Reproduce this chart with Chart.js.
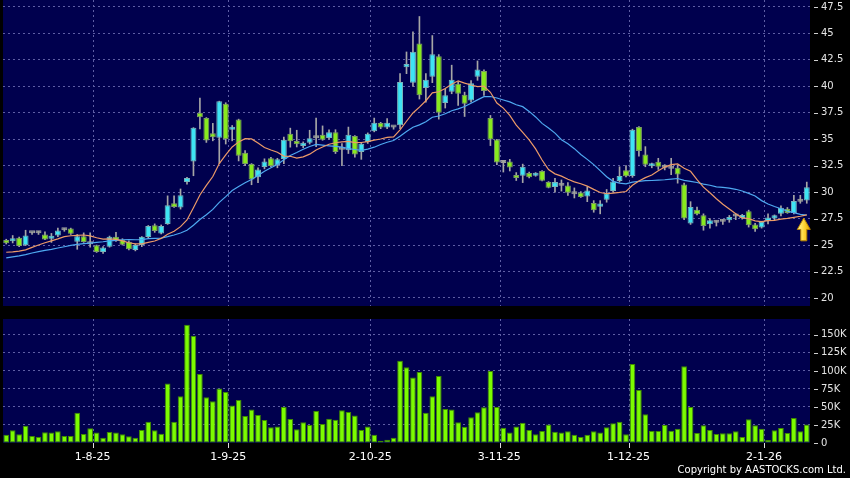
<!DOCTYPE html>
<html>
<head>
<meta charset="utf-8">
<title>Price chart</title>
<script src="https://cdn.jsdelivr.net/npm/chart.js@4.4.1/dist/chart.umd.min.js"></script>
<style>
  html, body { margin: 0; padding: 0; background: #000; overflow: hidden; }
  #wrap { position: relative; width: 850px; height: 478px; background: #000; }
  #priceChart { position: absolute; left: 0; top: 0; }
  #volChart { position: absolute; left: 0; top: 306px; }
  #copy { position: absolute; right: 4px; top: 464px; color: #fff; font: 10px "DejaVu Sans", sans-serif; line-height: 12px; }
</style>
</head>
<body>
<div id="wrap">
  <canvas id="priceChart" width="850" height="306"></canvas>
  <canvas id="volChart" width="850" height="172"></canvas>
  <div id="copy">Copyright by AASTOCKS.com Ltd.</div>
</div>
<script>
// trading calendar (HK), first bar and market holidays in the range
const firstDay = '2025-07-14';
const holidays = ['2025-10-01', '2025-10-07', '2025-10-29', '2025-12-25', '2025-12-26', '2026-01-01'];

// daily OHLC
const openPx = [
  25.47, 25.37, 25.69, 24.97, 26.12, 26.12, 26.00, 25.60, 25.90, 26.40,
  26.56, 25.31, 25.84, 25.08, 24.97, 24.34, 24.84, 25.78, 25.50, 25.31,
  24.53, 25.00, 25.76, 26.86, 26.10, 27.00, 28.95, 28.54, 30.95, 32.90,
  37.50, 37.00, 35.57, 35.13, 38.35, 35.89, 36.87, 33.73, 32.66, 31.40,
  32.38, 33.20, 32.55, 33.13, 35.53, 34.83, 34.36, 34.68, 35.10, 35.43,
  35.12, 35.66, 34.00, 33.95, 35.30, 33.80, 34.74, 35.75, 36.54, 36.10,
  36.10, 36.32, 41.80, 40.33, 44.05, 39.85, 40.90, 42.85, 38.42, 39.50,
  40.25, 39.20, 38.67, 40.90, 41.45, 37.00, 34.97, 32.75, 32.90, 31.60,
  31.55, 31.80, 31.55, 32.00, 30.95, 30.48, 30.60, 30.64, 29.80, 29.97,
  29.60, 28.98, 28.63, 29.27, 30.10, 31.05, 32.07, 31.53, 36.15, 33.57,
  32.45, 32.87, 32.30, 32.20, 32.30, 30.72, 27.03, 28.34, 27.81, 26.97,
  27.10, 27.20, 27.34, 27.70, 27.56, 28.19, 26.94, 26.66, 27.28, 27.50,
  27.97, 28.44, 28.03, 29.10, 29.22
];
const highPx = [
  25.55, 25.90, 25.75, 26.40, 26.20, 26.30, 26.25, 26.10, 26.60, 26.55,
  26.60, 26.00, 26.15, 26.15, 25.00, 24.85, 25.85, 26.20, 25.60, 25.40,
  25.10, 25.80, 26.85, 27.00, 26.90, 29.65, 29.65, 30.30, 31.40, 36.10,
  38.90, 37.05, 36.50, 38.60, 38.45, 36.30, 36.90, 33.92, 32.70, 32.30,
  33.15, 33.30, 33.20, 35.20, 36.05, 35.85, 34.75, 35.85, 37.00, 36.26,
  35.90, 35.90, 34.60, 36.15, 35.35, 34.65, 35.60, 37.00, 36.60, 36.95,
  36.20, 41.20, 43.25, 45.16, 46.60, 41.20, 44.80, 43.00, 39.75, 42.00,
  40.45, 39.45, 40.55, 42.40, 41.55, 37.25, 35.00, 32.90, 33.10, 31.85,
  32.65, 31.90, 31.85, 32.05, 31.00, 31.30, 31.15, 30.90, 30.40, 30.05,
  30.50, 29.20, 29.20, 30.25, 31.30, 32.40, 32.50, 35.95, 36.20, 34.30,
  32.75, 33.20, 32.60, 33.20, 32.55, 30.85, 29.10, 28.60, 27.95, 27.50,
  27.30, 27.40, 27.80, 27.95, 27.90, 28.30, 27.05, 27.25, 27.95, 27.85,
  28.70, 28.55, 29.70, 29.70, 30.95
];
const lowPx = [
  25.10, 25.20, 24.85, 24.95, 26.00, 26.00, 25.50, 25.25, 25.80, 26.30,
  26.00, 24.60, 25.25, 24.80, 24.30, 24.20, 24.80, 25.35, 25.00, 24.55,
  24.45, 24.85, 25.70, 26.20, 26.05, 26.95, 28.55, 28.40, 30.75, 31.55,
  35.98, 34.70, 34.85, 32.70, 34.55, 34.85, 32.95, 32.50, 30.70, 30.90,
  32.20, 32.40, 32.30, 32.70, 34.25, 34.27, 34.20, 34.55, 34.30, 34.90,
  35.00, 33.65, 32.50, 33.65, 33.30, 33.10, 34.60, 35.70, 36.00, 36.00,
  35.95, 36.00, 41.20, 40.00, 38.80, 38.50, 40.35, 36.90, 37.95, 39.30,
  38.20, 37.15, 38.50, 40.57, 39.15, 34.40, 32.60, 31.90, 32.00, 31.10,
  30.90, 31.35, 31.50, 31.05, 30.40, 30.00, 30.10, 29.70, 29.45, 29.50,
  29.10, 28.10, 27.95, 29.05, 30.00, 30.95, 31.45, 31.40, 33.40, 32.40,
  32.30, 32.15, 32.10, 31.65, 30.85, 27.40, 26.95, 27.85, 26.40, 26.60,
  26.80, 26.95, 27.15, 27.40, 27.45, 26.70, 26.30, 26.60, 27.00, 27.40,
  27.75, 28.00, 27.95, 28.95, 28.95
];
const closePx = [
  25.16, 25.56, 24.91, 25.90, 26.12, 26.12, 25.53, 25.87, 26.37, 26.40,
  26.06, 25.84, 25.28, 25.08, 24.34, 24.78, 25.78, 25.40, 25.03, 24.60,
  25.00, 25.78, 26.80, 26.33, 26.80, 28.76, 28.60, 29.70, 31.34, 36.08,
  37.09, 34.87, 35.20, 38.58, 35.03, 36.17, 33.45, 32.66, 31.20, 32.15,
  32.90, 32.47, 33.10, 34.96, 34.80, 34.52, 34.68, 35.09, 35.10, 34.96,
  35.65, 33.80, 34.00, 35.43, 33.57, 34.58, 35.53, 36.57, 36.10, 36.57,
  36.10, 40.42, 42.10, 43.26, 39.15, 40.63, 43.04, 37.50, 39.15, 40.63,
  39.30, 38.35, 40.30, 41.60, 39.55, 34.97, 32.80, 32.75, 32.34, 31.33,
  32.40, 31.40, 31.80, 31.07, 30.41, 30.95, 30.60, 29.94, 29.80, 29.55,
  30.16, 28.28, 28.92, 29.90, 31.00, 31.53, 31.50, 35.89, 33.90, 32.60,
  32.70, 32.39, 32.30, 32.20, 31.66, 27.50, 28.60, 27.90, 26.80, 27.34,
  27.10, 27.20, 27.65, 27.70, 27.81, 26.87, 26.50, 27.19, 27.60, 27.81,
  28.53, 28.03, 29.16, 29.10, 30.47
];

// moving averages as drawn (10 and 20 day)
const ma10 = [
  24.32, 24.36, 24.42, 24.55, 24.78, 25.00, 25.22, 25.40, 25.58, 25.79,
  25.88, 25.91, 25.95, 25.87, 25.69, 25.56, 25.58, 25.53, 25.40, 25.22,
  25.11, 25.11, 25.26, 25.38, 25.63, 26.03, 26.31, 26.74, 27.37, 28.52,
  29.73, 30.64, 31.48, 32.70, 33.53, 34.27, 34.75, 35.05, 35.03, 34.64,
  34.22, 33.98, 33.77, 33.41, 33.39, 33.22, 33.34, 33.59, 33.98, 34.26,
  34.53, 34.67, 34.76, 34.80, 34.68, 34.69, 34.77, 34.92, 35.02, 35.18,
  35.23, 35.89, 36.70, 37.48, 38.04, 38.64, 39.39, 39.49, 39.79, 40.20,
  40.52, 40.31, 40.13, 39.97, 40.01, 39.44, 38.42, 37.94, 37.26, 36.33,
  35.64, 34.94, 34.09, 33.04, 32.13, 31.73, 31.51, 31.22, 30.97, 30.79,
  30.57, 30.26, 29.97, 29.85, 29.91, 29.97, 30.06, 30.65, 31.06, 31.37,
  31.62, 32.03, 32.37, 32.60, 32.67, 32.26, 31.97, 31.18, 30.47, 29.94,
  29.38, 28.86, 28.40, 27.95, 27.56, 27.50, 27.29, 27.22, 27.30, 27.34,
  27.45, 27.52, 27.62, 27.72, 27.85
];
const ma20 = [
  23.78, 23.88, 23.97, 24.10, 24.25, 24.38, 24.50, 24.60, 24.72, 24.84,
  24.97, 25.06, 25.13, 25.19, 25.25, 25.31, 25.40, 25.45, 25.50, 25.51,
  25.50, 25.51, 25.60, 25.63, 25.66, 25.79, 25.95, 26.14, 26.39, 26.87,
  27.42, 27.87, 28.37, 29.04, 29.58, 30.15, 30.53, 30.89, 31.20, 31.58,
  31.97, 32.31, 32.62, 33.06, 33.46, 33.74, 34.05, 34.32, 34.51, 34.45,
  34.38, 34.32, 34.26, 34.11, 34.03, 33.95, 34.06, 34.25, 34.50, 34.72,
  34.88, 35.28, 35.73, 36.14, 36.36, 36.66, 37.08, 37.20, 37.41, 37.69,
  37.87, 38.10, 38.41, 38.72, 39.02, 39.04, 38.90, 38.71, 38.53, 38.26,
  38.08, 37.63, 37.11, 36.50, 36.07, 35.58, 34.96, 34.58, 34.11, 33.56,
  33.10, 32.60, 32.03, 31.45, 31.02, 30.85, 30.78, 30.94, 31.02, 31.08,
  31.10, 31.14, 31.17, 31.23, 31.29, 31.12, 31.02, 30.91, 30.76, 30.65,
  30.50, 30.45, 30.38, 30.27, 30.11, 29.88, 29.63, 29.20, 28.88, 28.64,
  28.43, 28.21, 28.06, 27.90, 27.84
];

// volume in thousands of shares
const volK = [
  11.6, 17.6, 12, 24, 9.7, 8.3, 14.8, 14.4, 16.2, 9.7,
  9.7, 42, 12.5, 20.4, 14.4, 7.4, 15.3, 14.4, 12, 9.3,
  7.4, 18, 29.6, 17.6, 13, 82.4, 29.6, 64.8, 164, 148.6,
  95.8, 63.4, 57.9, 75.5, 70.8, 51.9, 59.7, 37.5, 46.3, 38.9,
  31.9, 21.8, 23, 50, 33.3, 19, 28.7, 25, 44.4, 26.4,
  33.8, 32.4, 45.4, 43, 38, 18, 23, 11.6, 3.2, 4.6,
  7.4, 114, 105, 90.7, 98.6, 42, 64.8, 93, 47.2, 46.3,
  28.7, 22.7, 35.6, 42.6, 49.5, 100, 50, 21.3, 14.4, 23,
  28.2, 18, 12, 16.7, 25.5, 15.7, 14.4, 16.2, 11.6, 8.3,
  11.6, 16.2, 14.4, 21.8, 27.3, 29.6, 12, 109.7, 73.6, 39.8,
  16.7, 16.7, 25, 17.1, 19.9, 106.5, 50, 13.9, 24.5, 18,
  12.5, 13.4, 13.4, 16.2, 8.3, 32.9, 24.5, 19.9, 4.2, 17.6,
  20.8, 13.9, 34.7, 16.2, 25.5
];

// axis ticks
const priceTicks = [20, 22.5, 25, 27.5, 30, 32.5, 35, 37.5, 40, 42.5, 45, 47.5];
const volTicks = [0, 25, 50, 75, 100, 125, 150];

// yellow marker under the last bar
const arrowTip = 27.55;
const arrowBase = 25.4;

const NAVY = '#00004e';
const GRID = '#5e5ea4';
const LABEL = '#e4e4e4';
const UP = '#3ee4f4';
const DOWN = '#88ea1e';
const FLAT = '#9ea69a';
const WICK = '#a6a6a6';
const VOL = '#7cfc00';
const NONE = 'rgba(0,0,0,0)';

Chart.defaults.font.family = '"DejaVu Sans", sans-serif';
Chart.defaults.animation = false;

function tradingDays(start, count) {
  const out = [];
  const d = new Date(start + 'T00:00:00Z');
  while (out.length < count) {
    const iso = d.toISOString().slice(0, 10);
    const wd = d.getUTCDay();
    if (wd !== 0 && wd !== 6 && !holidays.includes(iso)) out.push(iso);
    d.setUTCDate(d.getUTCDate() + 1);
  }
  return out;
}

const dates = tradingDays(firstDay, closePx.length);
// first trading day of each month gets a grid line and a label
const monthStart = dates.map((d, i) => i > 0 && d.slice(0, 7) !== dates[i - 1].slice(0, 7));

function shortDate(iso) {
  const [y, m, d] = iso.split('-');
  return (+d) + '-' + (+m) + '-' + y.slice(2);
}

function candleColor(i) {
  if (closePx[i] > openPx[i]) return UP;
  if (closePx[i] < openPx[i]) return DOWN;
  return FLAT;
}

function candleEdge(i) {
  if (closePx[i] > openPx[i]) return '#78b4bc';
  if (closePx[i] < openPx[i]) return '#7c9c64';
  return '#a0a0a0';
}

const monthGrid = c => monthStart[c.index] ? GRID : NONE;

// navy plot area
const panelBg = {
  id: 'panelBg',
  beforeDraw(chart) {
    const a = chart.chartArea;
    const ctx = chart.ctx;
    ctx.save();
    ctx.fillStyle = NAVY;
    ctx.fillRect(a.left, a.top, a.right - a.left, a.bottom - a.top);
    ctx.restore();
  }
};

// little dash in front of each value label
const sideDashes = {
  id: 'sideDashes',
  afterDraw(chart) {
    const y = chart.scales.y;
    const ctx = chart.ctx;
    ctx.save();
    ctx.strokeStyle = '#cfcfcf';
    ctx.lineWidth = 1;
    y.ticks.forEach(t => {
      const py = Math.round(y.getPixelForValue(t.value)) + 0.5;
      ctx.beginPath();
      ctx.moveTo(y.left + 4, py);
      ctx.lineTo(y.left + 8, py);
      ctx.stroke();
    });
    ctx.restore();
  }
};

const arrowMark = {
  id: 'arrowMark',
  afterDatasetsDraw(chart) {
    const ctx = chart.ctx;
    const x = chart.scales.x.getPixelForValue(closePx.length - 1) - 3;
    const top = chart.scales.y.getPixelForValue(arrowTip);
    const bot = chart.scales.y.getPixelForValue(arrowBase);
    const neck = top + (bot - top) * 0.5;
    ctx.save();
    const g = ctx.createLinearGradient(x - 6, 0, x + 6, 0);
    g.addColorStop(0, '#fff7a0');
    g.addColorStop(0.5, '#ffd83a');
    g.addColorStop(1, '#e8a800');
    ctx.fillStyle = g;
    ctx.strokeStyle = '#b88400';
    ctx.lineWidth = 1;
    ctx.beginPath();
    ctx.moveTo(x, top);
    ctx.lineTo(x + 6.5, neck);
    ctx.lineTo(x + 3, neck);
    ctx.lineTo(x + 3, bot);
    ctx.lineTo(x - 3, bot);
    ctx.lineTo(x - 3, neck);
    ctx.lineTo(x - 6.5, neck);
    ctx.closePath();
    ctx.fill();
    ctx.stroke();
    ctx.restore();
  }
};

const common = {
  responsive: false,
  devicePixelRatio: 1,
  events: [],
  plugins: { legend: { display: false }, tooltip: { enabled: false } }
};

function valueAxis(min, max, ticks, fmt, gridColor) {
  return {
    position: 'right',
    min: min,
    max: max,
    afterBuildTicks: s => { s.ticks = ticks.map(v => ({ value: v })); },
    ticks: { color: LABEL, font: { size: 10 }, padding: 11, callback: fmt },
    grid: { color: gridColor, drawTicks: false },
    border: { display: false, dash: [2, 3] },
    afterFit: s => { s.width = 40; s.paddingTop = 0; s.paddingBottom = 0; }
  };
}

new Chart(document.getElementById('priceChart'), {
  type: 'bar',
  data: {
    labels: dates,
    datasets: [
      {
        type: 'line', label: 'MA10', data: ma10,
        borderColor: '#ec9a68', borderWidth: 1.2, pointRadius: 0, order: 1
      },
      {
        type: 'line', label: 'MA20', data: ma20,
        borderColor: '#4ea8f0', borderWidth: 1.2, pointRadius: 0, order: 2
      },
      {
        label: 'body',
        data: openPx.map((o, i) => [o, closePx[i]]),
        backgroundColor: c => candleColor(c.dataIndex),
        borderColor: c => candleEdge(c.dataIndex),
        borderWidth: 1,
        borderSkipped: false,
        minBarLength: 3,
        grouped: false,
        barPercentage: 0.92,
        categoryPercentage: 1,
        order: 3
      },
      {
        label: 'wick',
        data: lowPx.map((l, i) => [l, highPx[i]]),
        backgroundColor: WICK,
        borderWidth: 0,
        barThickness: 1,
        grouped: false,
        order: 4
      }
    ]
  },
  options: Object.assign({}, common, {
    layout: { padding: { left: 3, top: 0, right: 0, bottom: 0 } },
    scales: {
      x: {
        offset: true,
        ticks: { display: false },
        grid: { offset: true, color: monthGrid, drawTicks: false },
        border: { display: false, dash: [2, 3] },
        afterFit: s => { s.height = 0; s.paddingLeft = 0; s.paddingRight = 0; }
      },
      y: valueAxis(19.24, 48.16, priceTicks, v => String(v), GRID)
    }
  }),
  plugins: [panelBg, sideDashes, arrowMark]
});

new Chart(document.getElementById('volChart'), {
  type: 'bar',
  data: {
    labels: dates,
    datasets: [{
      label: 'Volume',
      data: volK,
      backgroundColor: VOL,
      borderColor: '#3f8a00',
      borderWidth: 1,
      borderSkipped: false,
      barPercentage: 0.88,
      categoryPercentage: 1
    }]
  },
  options: Object.assign({}, common, {
    layout: { padding: { left: 3, top: 13, right: 0, bottom: 0 } },
    scales: {
      x: {
        offset: true,
        ticks: {
          color: '#ffffff',
          font: { size: 11 },
          autoSkip: false,
          maxRotation: 0,
          padding: 3,
          labelOffset: -4,
          callback: (v, i) => monthStart[i] ? shortDate(dates[i]) : ''
        },
        grid: {
          offset: true,
          color: monthGrid,
          tickColor: c => monthStart[c.index] ? '#dddddd' : NONE,
          tickLength: 5
        },
        border: { display: false, dash: [2, 3] },
        afterFit: s => { s.height = 35; s.paddingLeft = 0; s.paddingRight = 0; }
      },
      y: valueAxis(0, 172, volTicks, v => v === 0 ? '0' : v + 'K',
        c => (c.tick && c.tick.value === 0) ? NONE : GRID)
    }
  }),
  plugins: [panelBg, sideDashes]
});
</script>
</body>
</html>
